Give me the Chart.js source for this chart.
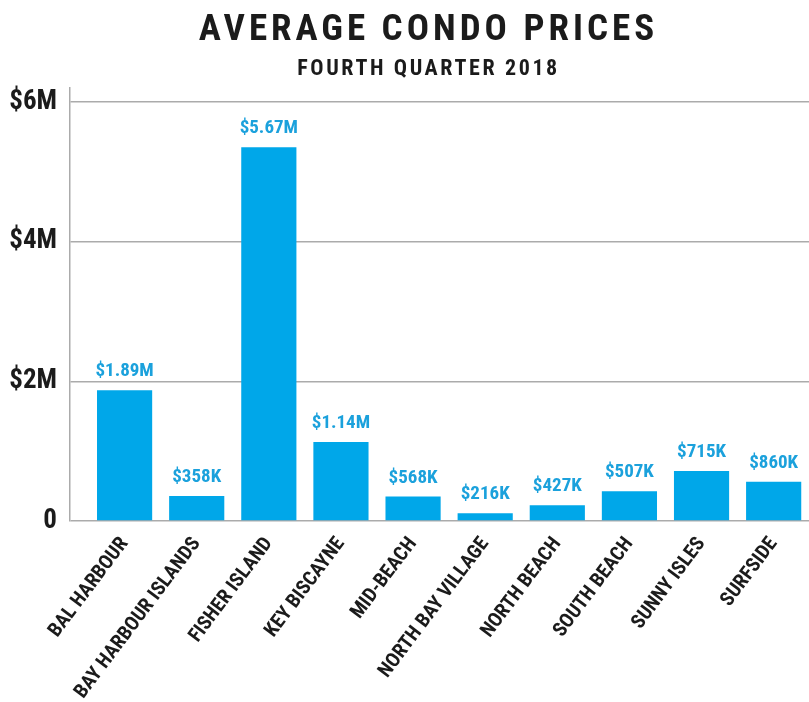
<!DOCTYPE html>
<html>
<head>
<meta charset="utf-8">
<script src="https://cdn.jsdelivr.net/npm/chart.js@4/dist/chart.umd.min.js"></script>
<style>
  html, body { margin: 0; padding: 0; background: #ffffff; }
  #wrap { width: 809px; height: 702px; }
</style>
</head>
<body>
<div id="wrap"><canvas id="c" width="809" height="702"></canvas></div>
<script>
// ---- data ----
const TITLE = 'AVERAGE CONDO PRICES';
const SUBTITLE = 'FOURTH QUARTER 2018';
const categories = ['BAL HARBOUR', 'BAY HARBOUR ISLANDS', 'FISHER ISLAND', 'KEY BISCAYNE', 'MID-BEACH',
                    'NORTH BAY VILLAGE', 'NORTH BEACH', 'SOUTH BEACH', 'SUNNY ISLES', 'SURFSIDE'];
// bar heights as drawn (millions of dollars)
const barValues = [1.87, 0.358, 5.35, 1.13, 0.35, 0.11, 0.225, 0.425, 0.715, 0.56];
// value labels printed above the bars
const valueLabels = ['$1.89M', '$358K', '$5.67M', '$1.14M', '$568K', '$216K', '$427K', '$507K', '$715K', '$860K'];
const yTicks = [0, 2, 4, 6];
const yTickLabels = ['0', '$2M', '$4M', '$6M'];

const FONT = "'Roboto Condensed', 'Open Sans Condensed', 'Liberation Sans', sans-serif";
const BAR_BLUE = '#00a7e9';
const LABEL_BLUE = '#1ba1dc';
const INK = '#1b1b1b';
const GRID = '#ababab';
const TITLE_SHIFT = 24; // headline sits slightly right of the page centre

const spacingPlugin = {
  id: 'titleSpacing',
  afterLayout(chart) {
    chart.boxes.forEach(b => {
      if (!b.options || b.__spaced) return;
      let ls = null;
      if (b.options.text === TITLE) ls = '4px';
      if (b.options.text === SUBTITLE) ls = '2.6px';
      if (!ls) return;
      const orig = b.draw;
      b.draw = function (area) {
        const ctx = this.ctx;
        ctx.save();
        ctx.letterSpacing = ls;
        ctx.translate(TITLE_SHIFT, 0);
        orig.call(this, area);
        ctx.restore();
        ctx.letterSpacing = '0px';
      };
      b.__spaced = true;
    });
  }
};

const valueLabelPlugin = {
  id: 'valueLabels',
  afterDatasetsDraw(chart) {
    const ctx = chart.ctx;
    const meta = chart.getDatasetMeta(0);
    ctx.save();
    ctx.font = "bold 19px " + FONT;
    ctx.fillStyle = LABEL_BLUE;
    ctx.textAlign = 'center';
    ctx.textBaseline = 'alphabetic';
    meta.data.forEach((bar, i) => {
      ctx.fillText(valueLabels[i], bar.x, bar.y - 14);
    });
    ctx.restore();
  }
};

new Chart(document.getElementById('c'), {
  type: 'bar',
  data: {
    labels: categories,
    datasets: [{
      data: categories.map((c, i) => ({ x: i, y: barValues[i] })),
      backgroundColor: BAR_BLUE,
      borderWidth: 0,
      categoryPercentage: 1,
      barPercentage: 0.765
    }]
  },
  options: {
    responsive: false,
    animation: false,
    layout: { padding: { top: 0, left: 0, right: 0, bottom: 0 } },
    plugins: {
      legend: { display: false },
      tooltip: { enabled: false },
      title: {
        display: true,
        text: TITLE,
        color: INK,
        font: { family: FONT, size: 37, weight: 'bold' },
        padding: { top: 9, bottom: 1 }
      },
      subtitle: {
        display: true,
        text: SUBTITLE,
        color: INK,
        font: { family: FONT, size: 22, weight: 'bold' },
        padding: { top: 2, bottom: 5 }
      }
    },
    scales: {
      x: {
        type: 'linear',
        offset: false,
        min: -0.757,
        max: 9.49,
        grid: { display: false, drawTicks: false, offset: false },
        border: { display: false },
        afterFit(scale) { scale.height = 181; },
        ticks: {
          stepSize: 1,
          includeBounds: false,
          autoSkip: false,
          minRotation: 53,
          maxRotation: 53,
          padding: 12,
          color: INK,
          font: { family: FONT, size: 20, weight: 'bold' },
          callback(v) { return Number.isInteger(v) && categories[v] !== undefined ? categories[v] : null; }
        }
      },
      y: {
        min: 0,
        max: 6.2,
        afterFit(scale) { scale.width = 70; },
        afterBuildTicks(scale) { scale.ticks = yTicks.map(v => ({ value: v })); },
        grid: { color: GRID, lineWidth: 1.5, drawTicks: false },
        border: { display: true, color: GRID, width: 1.5 },
        ticks: {
          padding: 13,
          color: INK,
          font: { family: FONT, size: 27, weight: 'bold' },
          callback(v) { const k = yTicks.indexOf(v); return k >= 0 ? yTickLabels[k] : null; }
        }
      }
    }
  },
  plugins: [spacingPlugin, valueLabelPlugin]
});
</script>
</body>
</html>
